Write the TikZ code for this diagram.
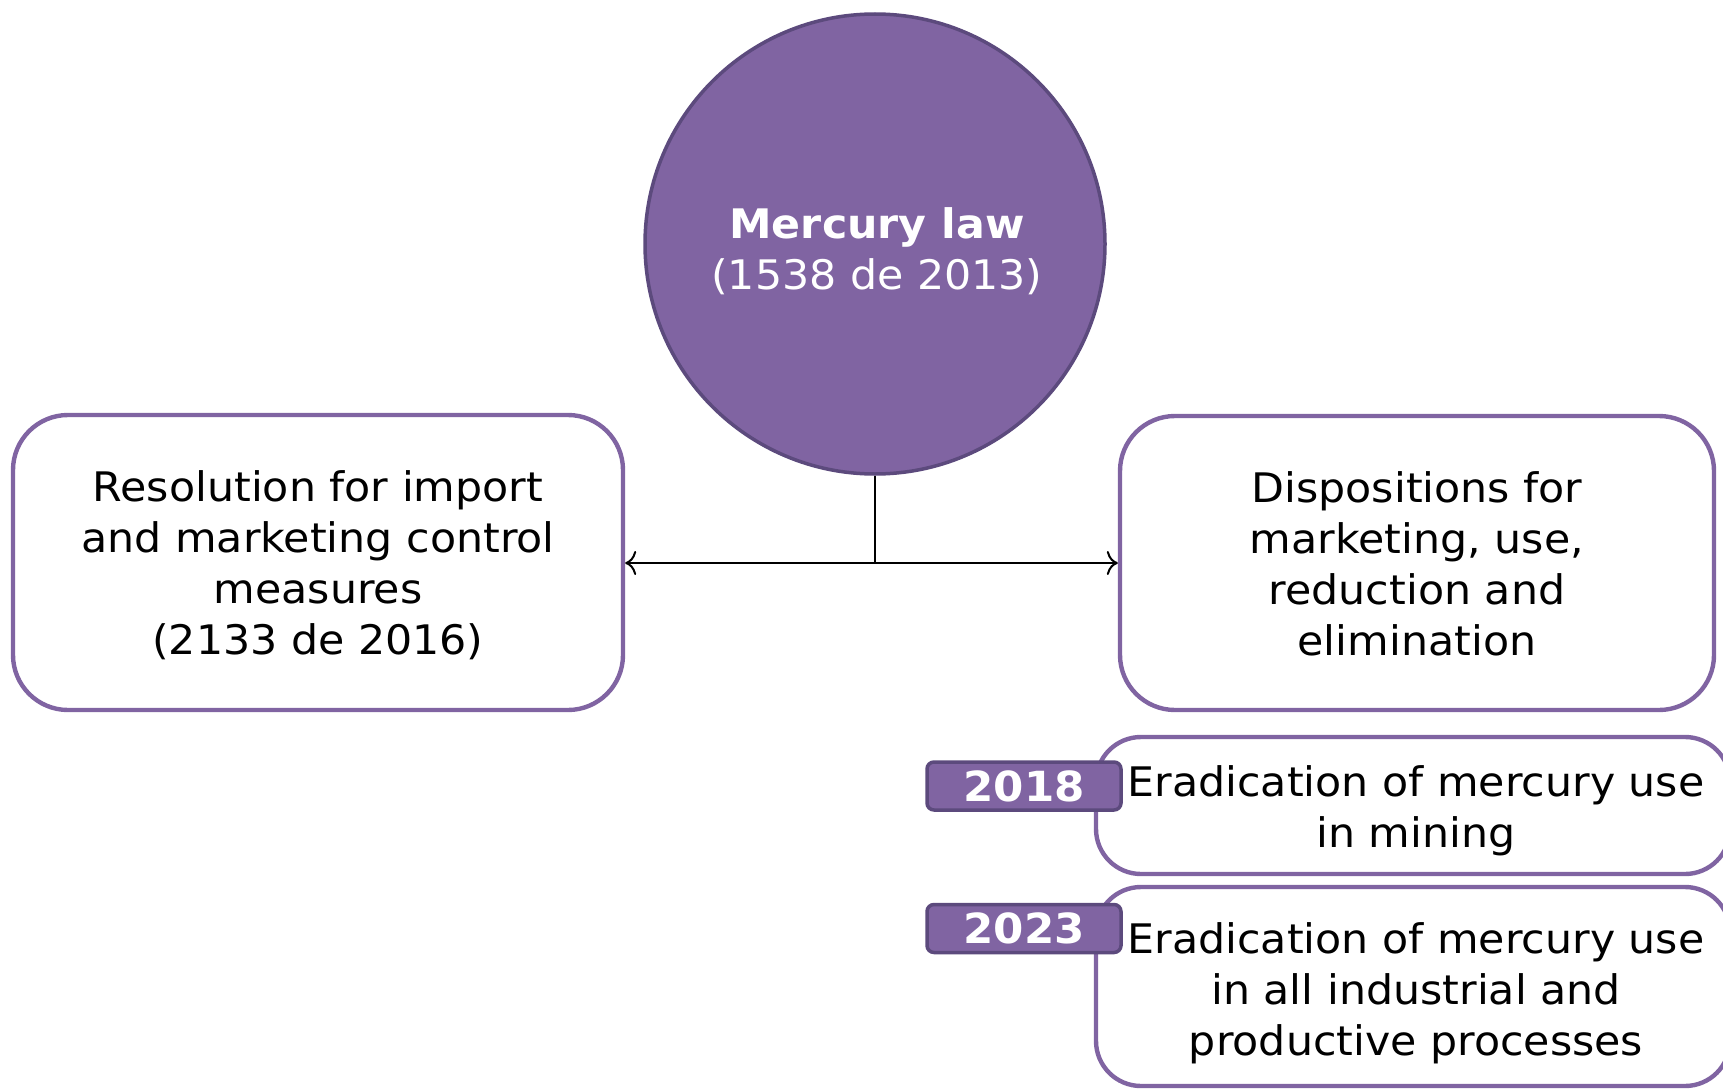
\documentclass[tikz,border=0pt]{standalone}
\usepackage{fontspec}
\setmainfont{DejaVu Sans}[FakeStretch=1.05]
\usetikzlibrary{arrows.meta}
\definecolor{pfill}{HTML}{8064A2}
\definecolor{pdark}{HTML}{5C4A7D}
\tikzset{
  every node/.style={font=\fontsize{40.7}{51}\selectfont},
  pbox/.style={draw=pfill, line width=4.4pt, fill=white, rounded corners=55pt, inner sep=0pt},
  txt/.style={align=center, inner sep=0pt},
  yearlab/.style={draw=pdark, line width=3.5pt, fill=pfill, rounded corners=7pt, text=white, inner sep=0pt, font=\fontsize{41.5}{51}\selectfont\bfseries, minimum width=194pt, minimum height=48pt},
  conn/.style={line width=2pt, draw=black},
  arr/.style={conn, -{To[length=11pt,width=24pt,line width=2pt]}}
}
\begin{document}
\begin{tikzpicture}[x=1pt,y=-1pt]
\useasboundingbox (0,0) rectangle (1723,1089);
\node[circle, draw=pdark, line width=3.5pt, fill=pfill, minimum size=460pt, inner sep=0pt] (law) at (875,244) {};
\node[txt, text=white] (lawt) at (877,251) {\textbf{Mercury law}\\(1538 de 2013)};
\node[pbox, minimum width=610pt, minimum height=295pt] (res) at (318,562.5) {};
\node[txt] (rest) at (318,565)
  {Resolution for import\\and marketing control\\measures\\(2133 de 2016)};
\node[pbox, minimum width=594pt, minimum height=294pt] (disp) at (1417,563) {};
\node[txt] (dispt) at (1417,564)
  {Dispositions for\\marketing, use,\\reduction and\\elimination};
\node[pbox, rounded corners=45pt, minimum width=634pt, minimum height=137pt] (e18) at (1413,805.5) {};
\node[txt] (e18t) at (1416,811) {Eradication of mercury use\\in mining};
\node[pbox, rounded corners=45pt, minimum width=634pt, minimum height=199pt] (e23) at (1413,986.5) {};
\node[txt] (e23t) at (1416,993)
  {Eradication of mercury use\\in all industrial and\\productive processes};
\node[yearlab] (y18) at (1024,786) {2018};
\node[yearlab] (y23) at (1024,928.5) {2023};
\draw[conn] (law.south) -- (875,563) coordinate (j);
\draw[arr] (j) -- (j -| res.east);
\draw[arr] (j) -- (j -| disp.west);
\end{tikzpicture}
\end{document}
